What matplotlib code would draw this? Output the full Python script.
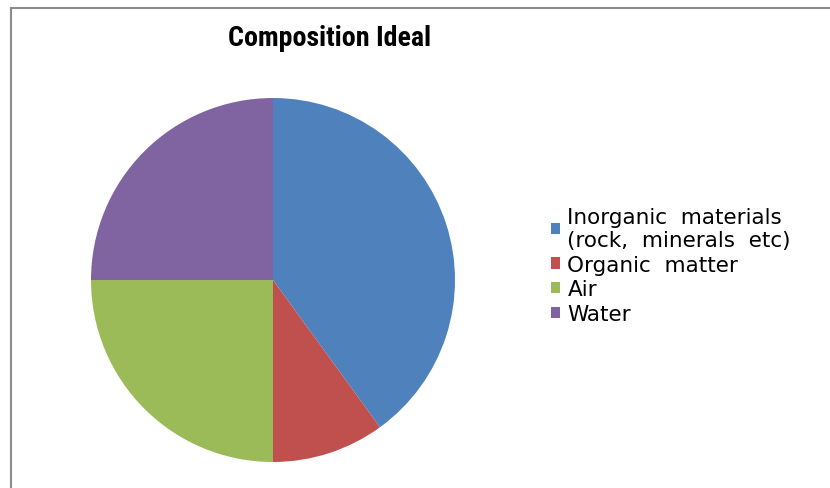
import matplotlib
matplotlib.use("Agg")
import matplotlib.pyplot as plt
from matplotlib import font_manager
from matplotlib.patches import Patch
from matplotlib.lines import Line2D

labels = ["Inorganic  materials\n(rock,  minerals  etc)", "Organic  matter", "Air", "Water"]
values = [40, 10, 25, 25]
colors = ["#4F81BD", "#C0504D", "#9BBB59", "#8064A2"]
title = "Composition Ideal"

fig = plt.figure(figsize=(8.3, 4.89), dpi=100)
W, H = 830, 489

# pie axes: centre (273, 281) px, radius 182 px
cx, cy, r = 273, 281, 182
ax = fig.add_axes([(cx - r) / W, 1 - (cy + r) / H, 2 * r / W, 2 * r / H])
ax.pie(values, colors=colors, startangle=90, counterclock=False, radius=1,
       wedgeprops=dict(linewidth=0))
ax.set_xlim(-1, 1)
ax.set_ylim(-1, 1)
ax.set_aspect("equal")
ax.axis("off")

# the title font in the picture is a narrow bold face
names = {f.name for f in font_manager.fontManager.ttflist}
title_kw = dict(fontweight="bold")
for fam in ["DejaVu Sans Condensed", "Liberation Sans Narrow", "Roboto Condensed"]:
    if fam in names:
        title_kw["family"] = fam
        break
else:
    title_kw["fontstretch"] = "condensed"

t = fig.text(330 / W, 1 - 38 / H, title, ha="center", va="center",
             fontsize=20, **title_kw)
renderer = fig.canvas.get_renderer()
w = t.get_window_extent(renderer).width
t.set_fontsize(20 * 203 / w)

handles = [Patch(facecolor=c, edgecolor="none") for c in colors]
fig.legend(handles, labels, loc="upper left", bbox_to_anchor=(540 / W, 1 - 197 / H),
           frameon=False, fontsize=15.5, handlelength=0.42, handleheight=0.42,
           handletextpad=0.35, labelspacing=0.22, borderpad=0)

# chart frame (top and left edges visible)
fig.add_artist(Line2D([11 / W, 1], [1 - 9 / H, 1 - 9 / H], color="#8c8c8c", lw=1.5))
fig.add_artist(Line2D([11 / W, 11 / W], [0, 1 - 9 / H], color="#8c8c8c", lw=1.5))

fig.savefig("out.png", dpi=100)
